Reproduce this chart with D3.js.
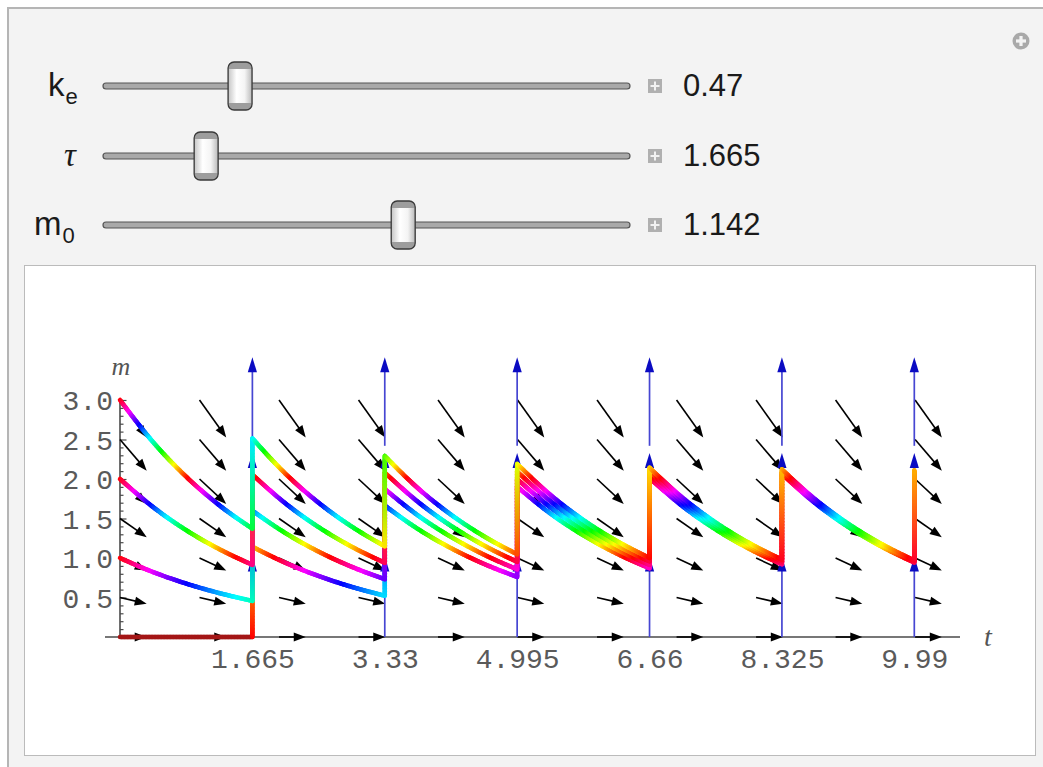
<!DOCTYPE html>
<html><head><meta charset="utf-8">
<script src="https://cdn.jsdelivr.net/npm/d3@7"></script>
<style>body{margin:0;background:#fff;} svg{display:block;}</style>
</head><body><svg id="c" width="1043" height="767"></svg>
<script>
// ---------------- data ----------------
const sliderNames = ["k", "τ", "m"];
const sliderSubs = ["e", "", "0"];
const sliderValues = [0.47, 1.665, 1.142];
const sliderLabels = ["0.47", "1.665", "1.142"];
const sliderMin = [0.1, 0.5, 0];
const sliderMax = [1.6, 7, 2];

const jumpTimes = [0, 1.665, 3.33, 4.995, 6.66, 8.325, 9.99];
const xTickLabels = ["1.665", "3.33", "4.995", "6.66", "8.325", "9.99"];
const yTickValues = [0.5, 1.0, 1.5, 2.0, 2.5, 3.0];
const yTickLabels = ["0.5", "1.0", "1.5", "2.0", "2.5", "3.0"];

// m values read at quarter steps inside each dosing interval
const curveFrom0 = [
  [0, 0, 0, 0, 0],
  [1.142, 0.939, 0.772, 0.635, 0.522],
  [1.664, 1.368, 1.125, 0.925, 0.761],
  [1.903, 1.565, 1.287, 1.058, 0.870],
  [2.012, 1.655, 1.361, 1.119, 0.920],
  [2.062, 1.696, 1.394, 1.147, 0.943]
];
const curveFrom1 = [
  [1.000, 0.822, 0.676, 0.556, 0.457],
  [1.599, 1.315, 1.081, 0.889, 0.731],
  [1.873, 1.540, 1.267, 1.042, 0.857],
  [1.999, 1.643, 1.351, 1.111, 0.914],
  [2.056, 1.691, 1.390, 1.143, 0.940],
  [2.082, 1.712, 1.408, 1.158, 0.952]
];
const curveFrom2 = [
  [2.000, 1.645, 1.352, 1.112, 0.914],
  [2.056, 1.691, 1.391, 1.143, 0.940],
  [2.082, 1.712, 1.408, 1.158, 0.952],
  [2.094, 1.722, 1.416, 1.164, 0.958],
  [2.100, 1.726, 1.420, 1.167, 0.960],
  [2.102, 1.729, 1.421, 1.169, 0.961]
];
const curveFrom3 = [
  [3.000, 2.467, 2.029, 1.668, 1.372],
  [2.514, 2.067, 1.700, 1.398, 1.149],
  [2.291, 1.884, 1.549, 1.274, 1.048],
  [2.190, 1.801, 1.481, 1.218, 1.001],
  [2.143, 1.762, 1.449, 1.192, 0.980],
  [2.122, 1.745, 1.435, 1.180, 0.970]
];
const finalDose = [2.085, 2.094, 2.103, 2.112]; // m after the dose at t = 9.99

const fieldT = [0, 1, 2, 3, 4, 5, 6, 7, 8, 9, 10];
const fieldM = [0, 0.5, 1.0, 1.5, 2.0, 2.5, 3.0];
const fieldSlope = [0, 0.235, 0.47, 0.705, 0.94, 1.175, 1.41];
const fieldDt = 0.336;

const doseArrowStart = [0, 1.02, 2.42];
const doseArrowEnd = [1.02, 2.33, 3.54];

// ---------------- drawing ----------------
const svg = d3.select("#c");
const defs = svg.append("defs");
const tg = defs.append("linearGradient").attr("id", "thumbGrad").attr("x1", "0").attr("x2", "1").attr("y1", "0").attr("y2", "0");
tg.append("stop").attr("offset", "0").attr("stop-color", "#c8c8c8");
tg.append("stop").attr("offset", "0.35").attr("stop-color", "#ffffff");
tg.append("stop").attr("offset", "0.7").attr("stop-color", "#f4f4f4");
tg.append("stop").attr("offset", "1").attr("stop-color", "#bdbdbd");

// panel
svg.append("rect").attr("x", 8).attr("y", 8).attr("width", 1100).attr("height", 820)
  .attr("fill", "#f3f3f3").attr("stroke", "#b5b5b5").attr("stroke-width", 2);

// top-right icon
const icon = svg.append("g").attr("transform", "translate(1021,41)");
icon.append("circle").attr("r", 8.5).attr("fill", "#a9a9a9");
icon.append("rect").attr("x", -1.6).attr("y", -5).attr("width", 3.2).attr("height", 10).attr("fill", "#f3f3f3");
icon.append("rect").attr("x", -5).attr("y", -1.6).attr("width", 10).attr("height", 3.2).attr("fill", "#f3f3f3");

// sliders
const rowY = [86, 156, 225];
const labelX = [48, 64, 34];
sliderNames.forEach((name, i) => {
  const cy = rowY[i];
  const sx = d3.scaleLinear().domain([sliderMin[i], sliderMax[i]]).range([116, 619]);
  const lab = svg.append("text").attr("x", labelX[i]).attr("y", cy + 10)
    .attr("fill", "#1a1a1a");
  lab.append("tspan")
    .attr("font-family", i === 1 ? "Liberation Serif" : "Liberation Sans")
    .attr("font-style", i === 1 ? "italic" : "normal")
    .attr("font-size", 33).text(name);
  if (sliderSubs[i]) {
    lab.append("tspan").attr("dx", 1).attr("dy", 8)
      .attr("font-family", "Liberation Sans").attr("font-size", 22).text(sliderSubs[i]);
  }
  svg.append("rect").attr("x", 103).attr("y", cy - 3).attr("width", 527).attr("height", 6).attr("rx", 3)
    .attr("fill", "#a9a9a9").attr("stroke", "#555").attr("stroke-width", 1.2);
  const tx = sx(sliderValues[i]);
  const th = svg.append("g").attr("transform", `translate(${tx},${cy})`);
  th.append("rect").attr("x", -12).attr("y", -24).attr("width", 24).attr("height", 48).attr("rx", 6).attr("fill", "#9d9d9d");
  th.append("rect").attr("x", -11.5).attr("y", -17).attr("width", 23).attr("height", 34).attr("fill", "url(#thumbGrad)");
  th.append("rect").attr("x", -12).attr("y", -24).attr("width", 24).attr("height", 48).attr("rx", 6)
    .attr("fill", "none").attr("stroke", "#3a3a3a").attr("stroke-width", 1.3);
  // plus button
  svg.append("rect").attr("x", 648).attr("y", cy - 7).attr("width", 14).attr("height", 14).attr("fill", "#b0b0b0");
  svg.append("rect").attr("x", 654).attr("y", cy - 4.5).attr("width", 2).attr("height", 9).attr("fill", "#f2f2f2");
  svg.append("rect").attr("x", 650.5).attr("y", cy - 1).attr("width", 9).attr("height", 2).attr("fill", "#f2f2f2");
  svg.append("text").attr("x", 683).attr("y", cy + 10).attr("font-family", "Liberation Sans")
    .attr("font-size", 31).attr("fill", "#1a1a1a").text(sliderLabels[i]);
});

// plot box
svg.append("rect").attr("x", 24.5).attr("y", 265.5).attr("width", 1011).attr("height", 490)
  .attr("fill", "#fff").attr("stroke", "#7d7d7d").attr("stroke-width", 1).attr("stroke-dasharray", "1,1");

// scales
const x = d3.scaleLinear().domain([0, 9.99]).range([120, 914.3]);
const y = d3.scaleLinear().domain([0, 3]).range([637, 400]);

const g = svg.append("g");

// axes
g.append("line").attr("x1", 105).attr("x2", 960).attr("y1", y(0)).attr("y2", y(0))
  .attr("stroke", "#4a4a4a").attr("stroke-width", 1.6);
g.append("line").attr("x1", x(0)).attr("x2", x(0)).attr("y1", y(0)).attr("y2", y(3.0) - 1)
  .attr("stroke", "#4a4a4a").attr("stroke-width", 1.6);

const minorTicks = d3.range(1, 31).map(i => i / 10).filter(v => Math.abs(v * 2 - Math.round(v * 2)) > 1e-6);
const yMinor = g.append("g").attr("transform", `translate(${x(0)},0)`)
  .call(d3.axisRight(y).tickValues(minorTicks).tickSize(3.5).tickFormat(""));
const yMajor = g.append("g").attr("transform", `translate(${x(0)},0)`)
  .call(d3.axisRight(y).tickValues(yTickValues).tickSize(6.5).tickFormat(""));
const yLab = g.append("g").attr("transform", `translate(${x(0)},0)`)
  .call(d3.axisLeft(y).tickValues(yTickValues).tickSize(0).tickPadding(7).tickFormat((d, i) => yTickLabels[i]));
const xLab = g.append("g").attr("transform", `translate(0,${y(0)})`)
  .call(d3.axisBottom(x).tickValues(jumpTimes.slice(1)).tickSize(0).tickPadding(11).tickFormat((d, i) => xTickLabels[i]));
[yMinor, yMajor, yLab, xLab].forEach(a => {
  a.select(".domain").remove();
  a.selectAll("line").attr("stroke", "#4a4a4a").attr("stroke-width", 1.2);
});
[yLab, xLab].forEach(a => a.selectAll("text").attr("font-family", "Liberation Mono").attr("font-size", 28).attr("fill", "#5a5a5a"));
yLab.selectAll("text").attr("dy", "0.34em");

g.append("text").attr("x", x(0) + 1).attr("y", 375).attr("text-anchor", "middle")
  .attr("font-family", "Liberation Serif").attr("font-style", "italic").attr("font-size", 26).attr("fill", "#555").text("m");
g.append("text").attr("x", 988).attr("y", 646).attr("text-anchor", "middle")
  .attr("font-family", "Liberation Serif").attr("font-style", "italic").attr("font-size", 28).attr("fill", "#555").text("t");

function arrowHead(sel, px, py, ang, len, hw, fill) {
  const c = Math.cos(ang), s = Math.sin(ang);
  const bx = px - len * c, by = py - len * s;
  sel.append("polygon").attr("points",
    `${px},${py} ${bx + hw * s},${by - hw * c} ${bx - hw * s},${by + hw * c}`).attr("fill", fill);
}

// direction field
const fg = g.append("g");
fieldT.forEach(t => {
  fieldM.forEach((m, j) => {
    const x0 = x(t), y0 = y(m);
    const x1 = x(t + fieldDt), y1 = y(m - fieldSlope[j] * fieldDt);
    const ang = Math.atan2(y1 - y0, x1 - x0);
    fg.append("line").attr("x1", x0).attr("y1", y0)
      .attr("x2", x1 - 7 * Math.cos(ang)).attr("y2", y1 - 7 * Math.sin(ang))
      .attr("stroke", "#000").attr("stroke-width", 1.6);
    arrowHead(fg, x1, y1, ang, 12, 4.5, "#000");
  });
});

// dose impulses
const bg = g.append("g");
jumpTimes.slice(1).forEach(t => {
  doseArrowStart.forEach((m0, k) => {
    const xx = x(t), ya = y(m0), yb = y(doseArrowEnd[k]);
    bg.append("line").attr("x1", xx).attr("x2", xx).attr("y1", ya).attr("y2", yb + 10)
      .attr("stroke", "#4646d2").attr("stroke-width", 1.7);
    arrowHead(bg, xx, yb, -Math.PI / 2, 15, 4.6, "#0b0bc2");
  });
});

// trajectories
function hueColor(m, darkZero) {
  if (darkZero && m < 0.01) return "#a41616";
  const h = ((m % 1) + 1) % 1;
  return d3.hsl(h * 360, 1, 0.5).toString();
}
const cg = g.append("g");
function drawColored(dStr, colorAt) {
  const tmp = cg.append("path").attr("d", dStr).attr("fill", "none").attr("stroke", "none");
  const node = tmp.node();
  const L = node.getTotalLength();
  const n = Math.max(2, Math.ceil(L / 1.5));
  let prev = node.getPointAtLength(0);
  for (let i = 1; i <= n; i++) {
    const p = node.getPointAtLength(L * i / n);
    cg.append("line").attr("x1", prev.x).attr("y1", prev.y).attr("x2", p.x).attr("y2", p.y)
      .attr("stroke", colorAt((i - 0.5) / n, (prev.y + p.y) / 2))
      .attr("stroke-width", 4.5).attr("stroke-linecap", "round");
    prev = p;
  }
  tmp.remove();
}
const segLine = d3.line().x(d => x(d[0])).y(d => y(d[1])).curve(d3.curveMonotoneX);
[curveFrom0, curveFrom1, curveFrom2, curveFrom3].forEach((curve, ci) => {
  curve.forEach((vals, si) => {
    const t0 = jumpTimes[si], t1 = jumpTimes[si + 1];
    const pts = vals.map((v, j) => [t0 + (t1 - t0) * j / 4, v]);
    drawColored(segLine(pts), (f, py) => hueColor(y.invert(py), true));
    const pre = vals[4];
    const post = si + 1 < curve.length ? curve[si + 1][0] : finalDose[ci];
    const ip = d3.interpolateRgb(hueColor(pre, false), hueColor(post, false));
    drawColored(d3.line()([[x(t1), y(pre)], [x(t1), y(post)]]), f => ip(f));
  });
});
</script></body></html>
